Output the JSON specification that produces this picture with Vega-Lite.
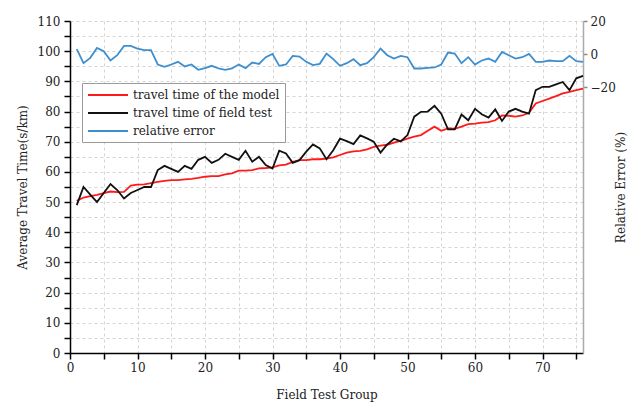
{
  "$schema": "https://vega.github.io/schema/vega-lite/v6.json",
  "width": 513,
  "height": 332,
  "autosize": "none",
  "padding": {"left": 70, "top": 21, "right": 49, "bottom": 51},
  "background": "white",
  "config": {
    "font": "DejaVu Serif",
    "view": {"stroke": null},
    "axis": {
      "labelFont": "DejaVu Serif", "titleFont": "DejaVu Serif",
      "labelFontSize": 12, "titleFontSize": 12, "titleFontWeight": "normal",
      "labelColor": "#222", "titleColor": "#222",
      "domainColor": "#000", "domainWidth": 1.5,
      "tickColor": "#000", "tickWidth": 1.5,
      "gridColor": "#d4d4d4", "gridDash": [3, 3], "gridWidth": 1
    },
    "legend": {
      "labelFont": "DejaVu Serif", "labelFontSize": 12, "labelColor": "#222"
    }
  },
  "data": {
    "values": [
      {"g":1,"model":50.4,"field":49,"error":3.0},
      {"g":2,"model":51.5,"field":55,"error":-5.4},
      {"g":3,"model":52,"field":52.5,"error":-2.2},
      {"g":4,"model":52.4,"field":50,"error":3.8},
      {"g":5,"model":53,"field":53,"error":1.8},
      {"g":6,"model":53.5,"field":56,"error":-3.8},
      {"g":7,"model":53.3,"field":54,"error":-0.6},
      {"g":8,"model":53.4,"field":51.2,"error":5.0},
      {"g":9,"model":55.5,"field":53,"error":5.0},
      {"g":10,"model":55.8,"field":54,"error":3.4},
      {"g":11,"model":55.9,"field":55,"error":2.4},
      {"g":12,"model":56.3,"field":55,"error":2.4},
      {"g":13,"model":56.7,"field":60.6,"error":-6.2},
      {"g":14,"model":57,"field":62,"error":-7.6},
      {"g":15,"model":57.3,"field":61,"error":-6.2},
      {"g":16,"model":57.3,"field":60,"error":-4.6},
      {"g":17,"model":57.5,"field":62,"error":-7.4},
      {"g":18,"model":57.7,"field":61,"error":-6.2},
      {"g":19,"model":58,"field":64,"error":-9.4},
      {"g":20,"model":58.4,"field":65,"error":-8.4},
      {"g":21,"model":58.6,"field":63,"error":-7.0},
      {"g":22,"model":58.6,"field":64,"error":-8.6},
      {"g":23,"model":59.2,"field":66,"error":-9.4},
      {"g":24,"model":59.5,"field":65,"error":-8.6},
      {"g":25,"model":60.4,"field":64,"error":-6.2},
      {"g":26,"model":60.4,"field":67,"error":-8.4},
      {"g":27,"model":60.6,"field":63.4,"error":-5.0},
      {"g":28,"model":61.2,"field":65,"error":-5.9},
      {"g":29,"model":61.3,"field":62.3,"error":-1.8},
      {"g":30,"model":61.5,"field":61.1,"error":0.2},
      {"g":31,"model":62.2,"field":67,"error":-7.0},
      {"g":32,"model":62.4,"field":66.1,"error":-6.2},
      {"g":33,"model":63.3,"field":63,"error":-1.0},
      {"g":34,"model":63.9,"field":63.9,"error":-1.4},
      {"g":35,"model":63.9,"field":66.7,"error":-4.6},
      {"g":36,"model":64.2,"field":69.1,"error":-6.6},
      {"g":37,"model":64.2,"field":67.8,"error":-5.8},
      {"g":38,"model":64.4,"field":64.2,"error":0.4},
      {"g":39,"model":64.8,"field":67.2,"error":-3.0},
      {"g":40,"model":65.6,"field":71,"error":-7.0},
      {"g":41,"model":66.4,"field":70.2,"error":-5.4},
      {"g":42,"model":66.8,"field":69.2,"error":-3.0},
      {"g":43,"model":67,"field":72.1,"error":-6.6},
      {"g":44,"model":67.5,"field":71.1,"error":-5.4},
      {"g":45,"model":68.3,"field":70,"error":-1.8},
      {"g":46,"model":68.7,"field":66.4,"error":3.4},
      {"g":47,"model":69,"field":69.1,"error":-0.6},
      {"g":48,"model":69.7,"field":71,"error":-2.6},
      {"g":49,"model":70.3,"field":70.1,"error":-1.0},
      {"g":50,"model":71,"field":72.2,"error":-1.8},
      {"g":51,"model":71.7,"field":78.3,"error":-8.6},
      {"g":52,"model":72.2,"field":79.9,"error":-8.6},
      {"g":53,"model":73.6,"field":80,"error":-8.2},
      {"g":54,"model":75,"field":81.9,"error":-8.0},
      {"g":55,"model":73.6,"field":79.3,"error":-6.2},
      {"g":56,"model":74.4,"field":74.1,"error":1.0},
      {"g":57,"model":74.3,"field":74.1,"error":0.4},
      {"g":58,"model":75,"field":79,"error":-5.4},
      {"g":59,"model":75.8,"field":77.1,"error":-1.8},
      {"g":60,"model":76,"field":80.9,"error":-6.2},
      {"g":61,"model":76.3,"field":79.1,"error":-3.8},
      {"g":62,"model":76.5,"field":78,"error":-2.6},
      {"g":63,"model":77.1,"field":80.7,"error":-4.6},
      {"g":64,"model":78.7,"field":76.9,"error":1.4},
      {"g":65,"model":78.6,"field":80,"error":-0.6},
      {"g":66,"model":78.3,"field":80.9,"error":-2.6},
      {"g":67,"model":78.7,"field":80,"error":-1.8},
      {"g":68,"model":79.6,"field":79.3,"error":0.2},
      {"g":69,"model":82.7,"field":87.1,"error":-4.6},
      {"g":70,"model":83.5,"field":88.2,"error":-4.6},
      {"g":71,"model":84.3,"field":88.2,"error":-3.8},
      {"g":72,"model":85.1,"field":89,"error":-4.2},
      {"g":73,"model":86,"field":89.8,"error":-4.2},
      {"g":74,"model":86.5,"field":87.1,"error":-1.0},
      {"g":75,"model":87.1,"field":91,"error":-4.2},
      {"g":76,"model":87.6,"field":91.8,"error":-4.6}
    ]
  },
  "encoding": {
    "x": {
      "field": "g", "type": "quantitative",
      "scale": {"domain": [0, 76], "nice": false, "zero": false},
      "axis": {
        "title": "Field Test Group",
        "values": [0,5,10,15,20,25,30,35,40,45,50,55,60,65,70,75],
        "labelExpr": "datum.value % 10 == 0 ? datum.label : ''",
        "tickSize": 6, "labelPadding": 3, "titlePadding": 16,
        "grid": true, "labelFlush": false
      }
    }
  },
  "layer": [
    {
      "transform": [{"fold": ["model", "field"], "as": ["series", "value"]}],
      "mark": {"type": "line"},
      "encoding": {
        "y": {
          "field": "value", "type": "quantitative",
          "scale": {"domain": [0, 110], "nice": false, "zero": false},
          "axis": {
            "title": "Average Travel Time(s/km)",
            "orient": "left",
            "values": [0,5,10,15,20,25,30,35,40,45,50,55,60,65,70,75,80,85,90,95,100,105,110],
            "labelExpr": "datum.value % 10 == 0 ? datum.label : ''",
            "tickSize": 6, "labelPadding": 4, "titlePadding": 8, "grid": true
          }
        },
        "color": {
          "field": "series", "type": "nominal",
          "scale": {"domain": ["model", "field", "error"], "range": ["#ff1a1a", "#111111", "#3d8fd0"]},
          "legend": {
            "title": null,
            "orient": "none", "legendX": 12, "legendY": 62,
            "labelExpr": "datum.value == 'model' ? 'travel time of the model' : datum.value == 'field' ? 'travel time of field test' : 'relative error'",
            "symbolType": "M-1,0H5.67",
            "symbolSize": 144,
            "labelOffset": 32,
            "rowPadding": 5,
            "padding": 5,
            "strokeColor": "#9a9a9a",
            "fillColor": "white"
          }
        },
        "strokeWidth": {
          "field": "series", "type": "nominal",
          "scale": {"domain": ["model", "field", "error"], "range": [1.8, 1.8, 0.8]},
          "legend": {
            "title": null,
            "orient": "none", "legendX": 12, "legendY": 62,
            "labelExpr": "datum.value == 'model' ? 'travel time of the model' : datum.value == 'field' ? 'travel time of field test' : 'relative error'",
            "symbolType": "M-1,0H5.67",
            "symbolSize": 144,
            "labelOffset": 32,
            "rowPadding": 5,
            "padding": 5,
            "strokeColor": "#9a9a9a",
            "fillColor": "white"
          }
        }
      }
    },
    {
      "transform": [{"fold": ["error"], "as": ["series", "value"]}],
      "mark": {"type": "line"},
      "encoding": {
        "y": {
          "field": "value", "type": "quantitative",
          "scale": {"domain": [-180, 20], "nice": false, "zero": false},
          "axis": {
            "title": "Relative Error (%)",
            "orient": "right",
            "values": [20, 0, -20],
            "tickSize": 4, "labelPadding": 3,
            "titleAngle": 270, "titleX": 37, "titleY": 166,
            "titleAlign": "center", "titleBaseline": "middle",
            "grid": false,
            "domainColor": "#aaaaaa", "tickColor": "#888888", "domainWidth": 1.5
          }
        },
        "color": {"field": "series", "type": "nominal"},
        "strokeWidth": {"field": "series", "type": "nominal"}
      }
    }
  ],
  "resolve": {"scale": {"y": "independent"}}
}
